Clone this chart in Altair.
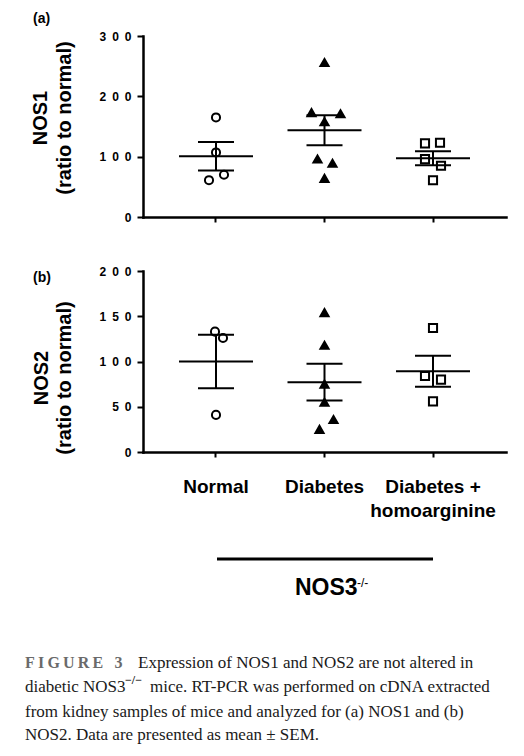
import altair as alt
import pandas as pd

# ---------------- data ----------------
categories = ["Normal", "Diabetes", "Diabetes + homoarginine"]

nos1_normal = [165, 107, 61, 70]
nos1_diabetes = [256, 173, 171, 158, 96, 89, 64]
nos1_dh = [122, 123, 96, 85, 61]

nos2_normal = [133, 126, 41]
nos2_diabetes = [154, 118, 75, 55, 36, 25]
nos2_dh = [137, 84, 80, 56]

# horizontal spread of points that would overlap (scatter jitter)
nos1_spread = [[0, 0, -7, 8], [0, -13, 16, 0, -7, 8, 0], [-8, 7, -8, 8, 0]]
nos2_spread = [[-1, 7, 0], [0, 0, 0, 0, 9, -5], [0, -8, 8, 0]]

nos1_ticks = [0, 100, 200, 300]
nos2_ticks = [0, 50, 100, 150, 200]

caption_lines = [
    "Expression of NOS1 and NOS2 are not altered in",
    "diabetic NOS3",
    "mice. RT-PCR was performed on cDNA extracted",
    "from kidney samples of mice and analyzed for (a) NOS1 and (b)",
    "NOS2. Data are presented as mean \u00b1 SEM.",
]

# ---------------- layout ----------------
W, H = 363, 181
SANS = "Liberation Sans"
SERIF = "Liberation Serif"
BW = 363 / (3 - 0.5 + 2 * 0.4228) * 0.5 / 2  # half band width


def txt(s, x, y, **kw):
    return alt.Chart(pd.DataFrame({"t": [s]})).mark_text(**kw).encode(
        text="t:N", x=alt.value(x), y=alt.value(y)
    )


def panel(value_lists, spread_lists, ticks, ymax, show_labels):
    rows = []
    for g, vals, sp in zip(categories, value_lists, spread_lists):
        for v, j in zip(vals, sp):
            rows.append({"group": g, "value": v, "jit": j})
    df = pd.DataFrame(rows)
    base = alt.Chart(df)

    xaxis_kw = dict(
        grid=False, domainColor="black", domainWidth=2.5, domainCap="square",
        tickColor="black", tickWidth=2, tickSize=5, title=None, labels=show_labels,
    )
    if show_labels:
        xaxis_kw.update(
            labelAngle=0, labelFont=SANS, labelFontWeight="bold", labelFontSize=19,
            labelColor="black", labelPadding=20, labelBaseline="top",
            labelLineHeight=24, labelLimit=300,
            labelExpr="datum.value == 'Diabetes + homoarginine' ? ['Diabetes +', 'homoarginine'] : datum.label",
        )
    xenc = alt.X(
        "group:N", sort=categories,
        scale=alt.Scale(domain=categories, paddingInner=0.5, paddingOuter=0.4228),
        axis=alt.Axis(**xaxis_kw),
    )
    yscale = alt.Scale(domain=[0, ymax], nice=False)
    yaxis = alt.Axis(
        values=ticks, grid=False, domainColor="black", domainWidth=2.5, domainCap="square",
        tickColor="black", tickWidth=2, tickSize=6, labelFont=SANS, labelFontWeight="bold",
        labelFontSize=12, labelColor="black", labelPadding=6,
        labelExpr="join(split(datum.label, ''), '\u2002')", title=None,
    )

    points = base.mark_point(filled=True, stroke="black", strokeWidth=2, size=66, opacity=1).encode(
        x=xenc,
        xOffset=alt.XOffset("jit:Q", scale=alt.Scale(domain=[-BW, BW])),
        y=alt.Y("value:Q", scale=yscale, axis=yaxis),
        shape=alt.Shape("group:N", scale=alt.Scale(domain=categories, range=["circle", "triangle-up", "square"])),
        fill=alt.Fill("group:N", scale=alt.Scale(domain=categories, range=["white", "black", "white"])),
    )

    stats = base.transform_aggregate(
        mean="mean(value)", sem="stderr(value)", groupby=["group"]
    ).transform_calculate(lo="datum.mean - datum.sem", hi="datum.mean + datum.sem")

    mean_tick = stats.mark_tick(color="black", thickness=2, size=74, opacity=1).encode(
        x=xenc, y=alt.Y("mean:Q", scale=yscale, axis=yaxis)
    )
    sem_rule = stats.mark_rule(color="black", strokeWidth=2).encode(
        x=xenc, y=alt.Y("lo:Q", scale=yscale, axis=yaxis), y2="hi:Q"
    )
    caps = stats.transform_fold(["lo", "hi"], as_=["k", "v"]).mark_tick(
        color="black", thickness=2, size=36, opacity=1
    ).encode(x=xenc, y=alt.Y("v:Q", scale=yscale, axis=yaxis))

    return [points, mean_tick, sem_rule, caps]


pa_layers = panel([nos1_normal, nos1_diabetes, nos1_dh], [nos1_spread[0], nos1_spread[1], nos1_spread[2]],
                  nos1_ticks, 300, False)
pa_layers += [
    txt("(a)", -110, -17, font=SANS, fontSize=14, fontWeight="bold", align="left", baseline="middle"),
    txt("NOS1", -102, 82, font=SANS, fontSize=20, fontWeight="bold", angle=270, align="center", baseline="middle"),
    txt("(ratio to normal)", -78, 82, font=SANS, fontSize=20, fontWeight="bold", angle=270, align="center", baseline="middle"),
]
pa = alt.layer(*pa_layers).properties(width=W, height=H)

pb_layers = panel([nos2_normal, nos2_diabetes, nos2_dh], [nos2_spread[0], nos2_spread[1], nos2_spread[2]],
                  nos2_ticks, 200, True)
pb_layers += [
    txt("(b)", -110, 7, font=SANS, fontSize=14, fontWeight="bold", align="left", baseline="middle"),
    txt("NOS2", -101, 107, font=SANS, fontSize=20, fontWeight="bold", angle=270, align="center", baseline="middle"),
    txt("(ratio to normal)", -78, 107, font=SANS, fontSize=20, fontWeight="bold", angle=270, align="center", baseline="middle"),
    alt.Chart(pd.DataFrame({"a": [0]})).mark_rule(color="black", strokeWidth=3).encode(
        x=alt.value(74), x2=alt.value(290), y=alt.value(288)
    ),
    txt("NOS3", 152, 324, font=SANS, fontSize=23, fontWeight="bold", align="left", baseline="alphabetic"),
    txt("-/-", 214, 316, font=SANS, fontSize=12, align="left", baseline="alphabetic"),
    txt("F\u2009I\u2009G\u2009U\u2009R\u2009E\u2002\u20093", -118, 397, font=SERIF, fontSize=16, fontWeight="bold",
        color="#6a6a6a", align="left", baseline="alphabetic"),
    txt(caption_lines[0], -5, 397, font=SERIF, fontSize=17, color="#1a1a1a", align="left", baseline="alphabetic"),
    txt(caption_lines[1], -118, 421, font=SERIF, fontSize=17, color="#1a1a1a", align="left", baseline="alphabetic"),
    txt("\u2212/\u2212", -18, 413, font=SERIF, fontSize=12, fontWeight="bold", color="#1a1a1a", align="left", baseline="alphabetic"),
    txt(caption_lines[2], 7, 421, font=SERIF, fontSize=17, color="#1a1a1a", align="left", baseline="alphabetic"),
    txt(caption_lines[3], -118, 446, font=SERIF, fontSize=17, color="#1a1a1a", align="left", baseline="alphabetic"),
    txt(caption_lines[4], -118, 469, font=SERIF, fontSize=17, color="#1a1a1a", align="left", baseline="alphabetic"),
]
pb = alt.layer(*pb_layers).properties(width=W, height=H)

chart = alt.vconcat(pa, pb, spacing=54, bounds="flush").properties(
    padding={"left": 17, "top": 4, "right": 5, "bottom": 5}
).configure_view(strokeWidth=0).configure_legend(disable=True)

chart.save("out.html", embed_options={"renderer": "svg", "actions": False})
